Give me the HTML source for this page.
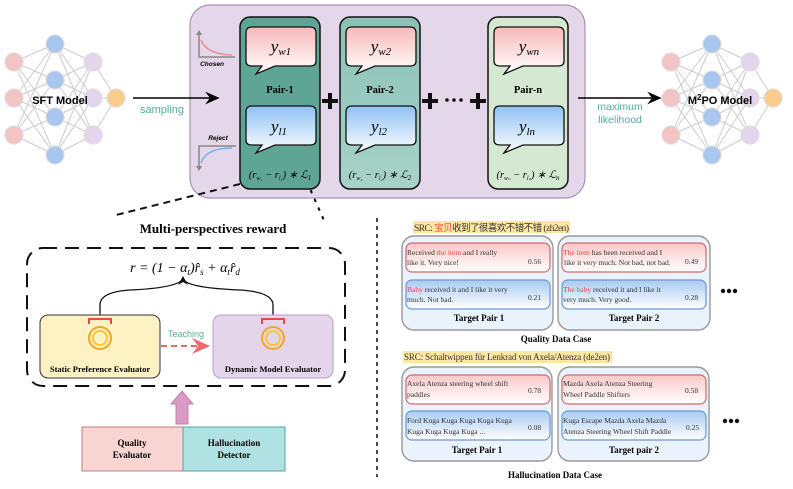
<!DOCTYPE html>
<html><head><meta charset="utf-8"><style>
body{margin:0;width:793px;height:489px;background:#fff;overflow:hidden}
svg{position:absolute;left:0;top:0}
text{font-family:"Liberation Serif",serif}
.s{font-family:"Liberation Sans",sans-serif}
</style></head><body>
<svg width="793" height="489" viewBox="0 0 793 489" xmlns="http://www.w3.org/2000/svg">
<defs>
<linearGradient id="pk" x1="0" y1="0" x2="0" y2="1"><stop offset="0" stop-color="#f7b9b9"/><stop offset="1" stop-color="#fff"/></linearGradient>
<linearGradient id="bl" x1="0" y1="0" x2="0" y2="1"><stop offset="0" stop-color="#8ec1f3"/><stop offset="1" stop-color="#fff"/></linearGradient>
<linearGradient id="pk2" x1="0" y1="0" x2="0" y2="1"><stop offset="0" stop-color="#f8c8c8"/><stop offset="1" stop-color="#fff"/></linearGradient>
<linearGradient id="bl2" x1="0" y1="0" x2="0" y2="1"><stop offset="0" stop-color="#a9cbf2"/><stop offset="1" stop-color="#fff"/></linearGradient>
<linearGradient id="g2" x1="0" y1="0" x2="0" y2="1"><stop offset="0" stop-color="#8bc2b6"/><stop offset="1" stop-color="#a8d2c8"/></linearGradient>
<marker id="ah" markerWidth="10" markerHeight="10" refX="8" refY="5" orient="auto"><path d="M0,1 L9,5 L0,9 L3,5z" fill="#000"/></marker>
<marker id="ar" markerWidth="10" markerHeight="10" refX="8" refY="5" orient="auto"><path d="M0,1 L9,5 L0,9 L3,5z" fill="#ef6a6a"/></marker>
</defs>

<g id="net" stroke="#ccc" stroke-width="1">
<path d="M14,62L55,44M14,62L55,80M14,62L55,117M14,62L55,155M14,98L55,44M14,98L55,80M14,98L55,117M14,98L55,155M14,135L55,44M14,135L55,80M14,135L55,117M14,135L55,155M55,44L93,62M55,44L93,98M55,44L93,135M55,80L93,62M55,80L93,98M55,80L93,135M55,117L93,62M55,117L93,98M55,117L93,135M55,155L93,62M55,155L93,98M55,155L93,135M93,62L116,98M93,98L116,98M93,135L116,98"/>
<g stroke="#ddd" stroke-width="1.2">
<circle cx="14" cy="62" r="9" fill="#f2c4c4"/><circle cx="14" cy="98" r="9" fill="#f2c4c4"/><circle cx="14" cy="135" r="9" fill="#f2c4c4"/>
<circle cx="55" cy="44" r="9" fill="#a9c6ef"/><circle cx="55" cy="80" r="9" fill="#a9c6ef"/><circle cx="55" cy="117" r="9" fill="#a9c6ef"/><circle cx="55" cy="155" r="9" fill="#a9c6ef"/>
<circle cx="93" cy="62" r="9" fill="#e3d6ec"/><circle cx="93" cy="98" r="9" fill="#e3d6ec"/><circle cx="93" cy="135" r="9" fill="#e3d6ec"/>
<circle cx="116" cy="98" r="9" fill="#fdcb8a"/>
</g></g>
<text x="60" y="104" class="s" font-size="11" font-weight="bold" text-anchor="middle">SFT Model</text>
<use href="#net" transform="translate(657,0)"/>
<text x="720" y="104" class="s" font-size="11" font-weight="bold" text-anchor="middle">M<tspan font-size="8" dy="-4">2</tspan><tspan dy="4">PO Model</tspan></text>

<rect x="190" y="5" width="395" height="193" rx="20" fill="#e4d7e9" stroke="#a893bb" stroke-width="1.2"/>
<line x1="133" y1="98" x2="218" y2="98" stroke="#000" stroke-width="1.6" marker-end="url(#ah)"/>
<text x="140" y="113" class="s" font-size="11" fill="#4fae9a">sampling</text>
<line x1="578" y1="98" x2="660" y2="98" stroke="#000" stroke-width="1.6" marker-end="url(#ah)"/>
<text x="620" y="110" class="s" font-size="10.5" fill="#4fae9a" text-anchor="middle">maximum</text>
<text x="620" y="123" class="s" font-size="10.5" fill="#4fae9a" text-anchor="middle">likelihood</text>

<path d="M199,32 V57 H235" fill="none" stroke="#888" stroke-width="1.5"/><path d="M196,35 L199,30 L202,35z" fill="#888"/>
<path d="M201,40 Q206,54 232,55" fill="none" stroke="#ef8b8b" stroke-width="1.5"/>
<text x="212" y="66" class="s" font-size="6.5" font-style="italic" font-weight="bold" text-anchor="middle">Chosen</text>
<text x="218" y="140" class="s" font-size="6.5" font-style="italic" font-weight="bold" text-anchor="middle">Reject</text>
<path d="M236,146 H199 V170" fill="none" stroke="#888" stroke-width="1.5"/><path d="M196,166 L199,171 L202,166z" fill="#888"/>
<path d="M201,163 Q206,148 232,148" fill="none" stroke="#6fb2f2" stroke-width="1.5"/>

<g stroke="#111" stroke-width="1.5">
<rect x="240" y="17" width="80" height="172" rx="10" fill="#5fa595"/>
<rect x="340" y="17" width="80" height="172" rx="10" fill="url(#g2)"/>
<rect x="488" y="17" width="80" height="172" rx="10" fill="#d5e8d2"/>
</g>
<g id="bub" stroke="#111" stroke-width="1.3">
<path d="M252,27 H310 Q316,27 316,33 V61 Q316,66 310,66 H275 L256,74 L262,66 H252 Q246,66 246,61 V33 Q246,27 252,27z" fill="url(#pk)"/>
<path d="M252,106 H310 Q316,106 316,112 V140 Q316,145 310,145 H275 L256,153 L262,145 H252 Q246,145 246,140 V112 Q246,106 252,106z" fill="url(#bl)"/>
</g>
<use href="#bub" transform="translate(100,0)"/>
<use href="#bub" transform="translate(248,0)"/>
<g font-size="17" font-style="italic" text-anchor="middle">
<text x="281" y="52">y<tspan font-size="11" dy="3">w1</tspan></text>
<text x="381" y="52">y<tspan font-size="11" dy="3">w2</tspan></text>
<text x="529" y="52">y<tspan font-size="11" dy="3">wn</tspan></text>
<text x="279" y="132">y<tspan font-size="11" dy="3">l1</tspan></text>
<text x="379" y="132">y<tspan font-size="11" dy="3">l2</tspan></text>
<text x="527" y="132">y<tspan font-size="11" dy="3">ln</tspan></text>
</g>
<g font-size="10.5" font-weight="bold" text-anchor="middle">
<text x="280" y="93">Pair-1</text><text x="380" y="93">Pair-2</text><text x="528" y="93">Pair-n</text>
</g>
<g font-size="10.5" font-style="italic" text-anchor="middle">
<text x="280" y="178">(r<tspan font-size="6" dy="2">w₁</tspan><tspan dy="-2"> − r</tspan><tspan font-size="6" dy="2">l₁</tspan><tspan dy="-2">) ∗ ℒ</tspan><tspan font-size="7" dy="2">1</tspan></text>
<text x="380" y="178">(r<tspan font-size="6" dy="2">w₂</tspan><tspan dy="-2"> − r</tspan><tspan font-size="6" dy="2">l₂</tspan><tspan dy="-2">) ∗ ℒ</tspan><tspan font-size="7" dy="2">2</tspan></text>
<text x="528" y="178">(r<tspan font-size="6" dy="2">wₙ</tspan><tspan dy="-2"> − r</tspan><tspan font-size="6" dy="2">lₙ</tspan><tspan dy="-2">) ∗ ℒ</tspan><tspan font-size="7" dy="2">n</tspan></text>
</g>
<g fill="#111">
<path d="M328,93h4v6h6v4h-6v6h-4v-6h-6v-4h6z"/>
<path d="M428,93h4v6h6v4h-6v6h-4v-6h-6v-4h6z"/>
<path d="M476,93h4v6h6v4h-6v6h-4v-6h-6v-4h6z"/>
<circle cx="447" cy="100" r="1.8"/><circle cx="454" cy="100" r="1.8"/><circle cx="461" cy="100" r="1.8"/>
</g>

<line x1="240" y1="184" x2="112" y2="216" stroke="#111" stroke-width="2" stroke-dasharray="7,5"/>
<line x1="311" y1="191" x2="326" y2="225" stroke="#111" stroke-width="2.2" stroke-dasharray="1.5,8" stroke-linecap="round"/>

<text x="213" y="233" font-size="13" font-weight="bold" text-anchor="middle">Multi-perspectives reward</text>
<rect x="27" y="248" width="318" height="138" rx="16" fill="none" stroke="#111" stroke-width="2" stroke-dasharray="14,8"/>
<text x="185" y="272" font-size="14" font-style="italic" text-anchor="middle">r = (1 − α<tspan font-size="9" dy="3">t</tspan><tspan dy="-3">)r̂</tspan><tspan font-size="9" dy="3">s</tspan><tspan dy="-3"> + α</tspan><tspan font-size="9" dy="3">t</tspan><tspan dy="-3">r̂</tspan><tspan font-size="9" dy="3">d</tspan></text>
<path d="M100,315 V305 Q100,292 130,290 Q175,288 182,280 M273,315 V305 Q273,292 240,290 Q190,288 184,280" fill="none" stroke="#111" stroke-width="1.3"/>
<path d="M178,285 L183,276 L188,285 L183,282z" fill="#111"/>
<rect x="40" y="315" width="120" height="63" rx="8" fill="#fdf2c4" stroke="#333" stroke-width="1"/>
<rect x="213" y="315" width="120" height="63" rx="8" fill="#e5d5ea" stroke="#b59fc6" stroke-width="1"/>
<g fill="none">
<path d="M89,324 V319 H111 V324" stroke="#e84848" stroke-width="2"/>
<circle cx="100" cy="338" r="11" stroke="#f4a623" stroke-width="2"/><circle cx="100" cy="338" r="7" stroke="#fbc531" stroke-width="2"/>
<path d="M262,324 V319 H284 V324" stroke="#e84848" stroke-width="2"/>
<circle cx="273" cy="338" r="11" stroke="#f4a623" stroke-width="2"/><circle cx="273" cy="338" r="7" stroke="#fbc531" stroke-width="2"/>
</g>
<text x="100" y="372" font-size="8.5" font-weight="bold" text-anchor="middle">Static Preference Evaluator</text>
<text x="273" y="372" font-size="8.5" font-weight="bold" text-anchor="middle">Dynamic Model Evaluator</text>
<text x="186" y="337" class="s" font-size="9" fill="#5aaa99" text-anchor="middle">Teaching</text>
<line x1="161" y1="346" x2="208" y2="346" stroke="#ef6a6a" stroke-width="2" stroke-dasharray="6,4" marker-end="url(#ar)"/>
<path d="M176,424 V404 H171 L182,391 L193,404 H188 V424z" fill="#d99bc1" stroke="#c97fb0"/>
<rect x="82" y="427" width="101" height="44" fill="#f8d5d2" stroke="#c77c7c"/>
<rect x="183" y="427" width="102" height="44" fill="#b1e2e3" stroke="#4aa7aa"/>
<g font-size="9" font-weight="bold" text-anchor="middle">
<text x="132" y="446">Quality</text><text x="132" y="458">Evaluator</text>
<text x="234" y="446">Hallucination</text><text x="234" y="458">Detector</text>
</g>
<line x1="377" y1="218" x2="377" y2="477" stroke="#111" stroke-width="1.5" stroke-dasharray="4,4"/>

<rect x="413" y="221" width="157" height="12" fill="#fde6a1"/>
<text x="414" y="231" font-size="9.5" fill="#333" font-family="Liberation Serif,Noto Sans CJK SC,serif" textLength="155">SRC: <tspan fill="#e84848">宝贝</tspan>收到了很喜欢不错不错 (zh2en)</text>
<g stroke="#999" stroke-width="1.4" fill="#eaf2fc">
<rect x="402" y="236" width="151" height="94" rx="12"/><rect x="558" y="236" width="152" height="94" rx="12"/>
<rect x="402" y="367" width="150" height="94" rx="12"/><rect x="558" y="367" width="151" height="94" rx="12"/>
</g>
<g stroke-width="1.2">
<rect x="406" y="243" width="144" height="29" rx="6" fill="url(#pk2)" stroke="#d06a6a"/>
<rect x="406" y="280" width="144" height="29" rx="6" fill="url(#bl2)" stroke="#6c97d4"/>
<rect x="562" y="243" width="144" height="29" rx="6" fill="url(#pk2)" stroke="#d06a6a"/>
<rect x="562" y="280" width="144" height="29" rx="6" fill="url(#bl2)" stroke="#6c97d4"/>
<rect x="406" y="375" width="144" height="29" rx="6" fill="url(#pk2)" stroke="#d06a6a"/>
<rect x="406" y="411" width="144" height="29" rx="6" fill="url(#bl2)" stroke="#6c97d4"/>
<rect x="562" y="375" width="144" height="29" rx="6" fill="url(#pk2)" stroke="#d06a6a"/>
<rect x="562" y="411" width="144" height="29" rx="6" fill="url(#bl2)" stroke="#6c97d4"/>
</g>
<g font-size="7.5" fill="#333">
<text x="407" y="255">Received <tspan fill="#e84848">the item</tspan> and I really</text><text x="407" y="265">like it.  Very nice!</text><text x="528" y="264">0.56</text>
<text x="407" y="292"><tspan fill="#e84848">Baby</tspan> received it and I like it very</text><text x="407" y="302">much.  Not bad.</text><text x="528" y="300">0.21</text>
<text x="563" y="255"><tspan fill="#e84848">The item</tspan> has been received and I</text><text x="564" y="265">like it very much. Not bad, not bad.</text><text x="685" y="264">0.49</text>
<text x="563" y="292"><tspan fill="#e84848">The baby</tspan> received it and I like it</text><text x="563" y="302">very much.  Very good.</text><text x="685" y="300">0.28</text>
<text x="407" y="386">Axela Atenza steering wheel shift</text><text x="407" y="397">paddles</text><text x="528" y="393">0.78</text>
<text x="407" y="423">Ford Kuga Kuga Kuga Kuga Kuga</text><text x="407" y="434">Kuga Kuga Kuga Kuga ...</text><text x="528" y="430">0.08</text>
<text x="563" y="386">Mazda Axela Atenza Steering</text><text x="563" y="397">Wheel Paddle Shifters</text><text x="685" y="393">0.58</text>
<text x="563" y="423">Kuga Escape Mazda Axela Mazda</text><text x="563" y="434">Atenza Steering Wheel Shift Paddle</text><text x="686" y="430">0.25</text>
</g>
<g font-size="9" font-weight="bold" text-anchor="middle">
<text x="479" y="321">Target Pair 1</text><text x="634" y="321">Target Pair 2</text>
<text x="477" y="453">Target Pair 1</text><text x="634" y="453">Target pair 2</text>
<text x="556" y="342">Quality Data Case</text>
<text x="555" y="478">Hallucination Data Case</text>
</g>
<g fill="#111"><circle cx="723" cy="291" r="2.2"/><circle cx="729" cy="291" r="2.2"/><circle cx="735" cy="291" r="2.2"/>
<circle cx="725" cy="421" r="2.2"/><circle cx="731" cy="421" r="2.2"/><circle cx="737" cy="421" r="2.2"/></g>
<rect x="403" y="351" width="209" height="12" fill="#fde6a1"/>
<text x="404" y="360" font-size="9" fill="#333" font-family="Liberation Sans,sans-serif" textLength="206">SRC: Schaltwippen für Lenkrad von Axela/Atenza (de2en)</text>
</svg>
</body></html>
